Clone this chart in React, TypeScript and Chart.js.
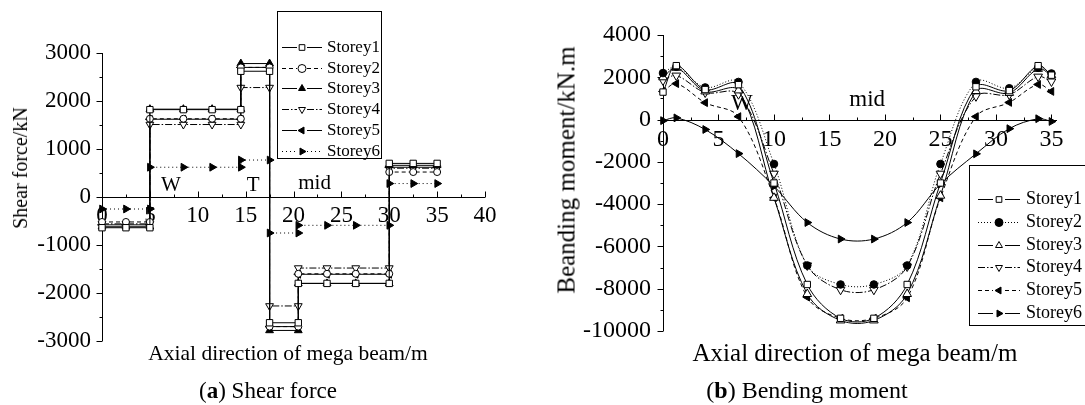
import React, { useEffect, useRef } from 'react';
import { Chart, registerables } from 'chart.js';
import { drawPoint } from 'chart.js/helpers';

Chart.register(...registerables);

const FONT = "'Liberation Serif', 'Times New Roman', serif";

const storeyLabels = ['Storey1', 'Storey2', 'Storey3', 'Storey4', 'Storey5', 'Storey6'];

// ---------- (a) Shear force ----------
// x positions (m) of the points on each constant-shear segment
const shearSegmentX = [
  [0, 2.5, 5],
  [5, 8.5, 11.5, 14.5],
  [14.5, 17.5],
  [17.5, 20.5],
  [20.5, 23.5, 26.5, 30],
  [30, 32.5, 35],
];
// shear (kN) on each segment
const shearStorey1 = [-640, 1820, 2620, -2620, -1800, 700];
const shearStorey2 = [-520, 1630, 2700, -2700, -1600, 520];
const shearStorey3 = [-620, 1830, 2780, -2780, -1800, 660];
const shearStorey4 = [-560, 1510, 2280, -2270, -1480, 600];
const shearStorey5 = [-580, 1620, 2700, -2700, -1610, 620];
const shearStorey6 = [-250, 620, 770, -750, -590, 280];
const shearXTicks = [0, 5, 10, 15, 20, 25, 30, 35, 40];
const shearYTicks = [-3000, -2000, -1000, 0, 1000, 2000, 3000];
const shearNotes = [
  { text: 'W', x: 7.2, y: 230 },
  { text: 'T', x: 15.8, y: 230 },
  { text: 'mid', x: 22.2, y: 290 },
];

// ---------- (b) Bending moment ----------
const momentX = [0, 1.2, 3.8, 6.8, 10, 13, 16, 19, 22, 25, 28.2, 31.2, 33.8, 35];
const momentStorey1 = [1300, 2550, 1420, 1650, -3000, -7800, -9400, -9400, -7800, -3000, 1550, 1370, 2550, 2100];
const momentStorey2 = [2200, 2500, 1520, 1780, -2100, -6900, -7800, -7800, -6900, -2100, 1780, 1480, 2450, 2180];
const momentStorey3 = [2000, 2450, 1330, 1380, -3700, -8250, -9500, -9500, -8250, -3600, 1350, 1260, 2400, 2100];
const momentStorey4 = [1850, 2080, 1280, 1200, -2560, -6900, -8050, -8050, -6950, -2560, 1100, 1180, 2030, 1800];
const momentStorey5 = [1330, 1700, 800, 140, -3700, -8400, -9400, -9400, -8430, -3700, 140, 810, 1660, 1330];
const momentStorey6 = [-50, 80, -470, -1610, -3150, -4870, -5650, -5650, -4870, -3050, -1620, -430, 40, -90];
const momentXTicks = [0, 5, 10, 15, 20, 25, 30, 35];
const momentYTicks = [-10000, -8000, -6000, -4000, -2000, 0, 2000, 4000];
const momentNotes = [
  { text: 'W', x: 7.1, y: 720 },
  { text: 'mid', x: 18.4, y: 950 },
];

type Style = { dash: number[]; point: string; rotation: number; fill: string; radius: number };

const shearStyles: Style[] = [
  { dash: [], point: 'rect', rotation: 0, fill: '#fff', radius: 4.5 },
  { dash: [4, 3], point: 'circle', rotation: 0, fill: '#fff', radius: 3.5 },
  { dash: [], point: 'triangle', rotation: 0, fill: '#000', radius: 4.5 },
  { dash: [7, 2, 1.5, 2], point: 'triangle', rotation: 180, fill: '#fff', radius: 4.5 },
  { dash: [], point: 'triangle', rotation: 270, fill: '#000', radius: 4.5 },
  { dash: [1, 3], point: 'triangle', rotation: 90, fill: '#000', radius: 4.5 },
];

const momentStyles: Style[] = [
  { dash: [], point: 'rect', rotation: 0, fill: '#fff', radius: 4.5 },
  { dash: [1, 2], point: 'circle', rotation: 0, fill: '#000', radius: 3.8 },
  { dash: [], point: 'triangle', rotation: 0, fill: '#fff', radius: 5 },
  { dash: [7, 2, 1.5, 2], point: 'triangle', rotation: 180, fill: '#fff', radius: 5 },
  { dash: [4, 3], point: 'triangle', rotation: 270, fill: '#000', radius: 4.5 },
  { dash: [], point: 'triangle', rotation: 90, fill: '#000', radius: 4.5 },
];

function makeDatasets(series: { x: number; y: number }[][], styles: Style[], tension: number) {
  return series.map((pts, i) => ({
    label: storeyLabels[i],
    data: pts,
    borderColor: '#000',
    borderWidth: 1,
    borderDash: styles[i].dash,
    pointStyle: styles[i].point,
    pointRotation: styles[i].rotation,
    pointRadius: styles[i].radius,
    pointBackgroundColor: styles[i].fill,
    pointBorderColor: '#000',
    pointBorderWidth: 1,
    tension,
    fill: false,
    clip: false as any,
  }));
}

const axesPlugin = {
  id: 'paperAxes',
  beforeDatasetsDraw(chart: any, _a: any, o: any) {
    const { ctx, chartArea: ca } = chart;
    const xs = chart.scales.x;
    const ys = chart.scales.y;
    const y0 = Math.round(ys.getPixelForValue(0)) + 0.5;
    const xl = Math.round(ca.left) + 0.5;
    ctx.save();
    ctx.strokeStyle = '#000';
    ctx.lineWidth = 1;
    ctx.setLineDash([]);
    ctx.beginPath();
    ctx.moveTo(xl, ca.top);
    ctx.lineTo(xl, ca.bottom);
    ctx.moveTo(ca.left, y0);
    ctx.lineTo(ca.right, y0);
    const nx = Math.floor((xs.max - xs.min) / o.xMinor + 1e-6);
    for (let i = 0; i <= nx; i++) {
      const v = xs.min + i * o.xMinor;
      const px = Math.round(xs.getPixelForValue(v)) + 0.5;
      const len = i % 2 === 0 ? o.major : o.minor;
      ctx.moveTo(px, y0);
      ctx.lineTo(px, y0 - len);
    }
    const ny = Math.floor((ys.max - ys.min) / o.yMinor + 1e-6);
    for (let i = 0; i <= ny; i++) {
      const v = ys.min + i * o.yMinor;
      const py = Math.round(ys.getPixelForValue(v)) + 0.5;
      const len = i % 2 === 0 ? o.major : o.minor;
      ctx.moveTo(xl, py);
      ctx.lineTo(xl - len, py);
    }
    ctx.stroke();
    // annotations
    ctx.fillStyle = '#000';
    ctx.font = `${o.noteSize}px ${FONT}`;
    ctx.textAlign = 'center';
    ctx.textBaseline = 'middle';
    (o.notes || []).forEach((n: any) => {
      ctx.fillText(n.text, xs.getPixelForValue(n.x), ys.getPixelForValue(n.y));
    });
    ctx.restore();
  },
};

const legendPlugin = {
  id: 'paperLegend',
  afterDraw(chart: any, _a: any, o: any) {
    const { ctx } = chart;
    ctx.save();
    ctx.setLineDash([]);
    ctx.fillStyle = '#fff';
    ctx.fillRect(o.left, o.top, o.width, o.height);
    ctx.strokeStyle = '#000';
    ctx.lineWidth = 1;
    ctx.strokeRect(o.left + 0.5, o.top + 0.5, o.width, o.height);
    ctx.font = `${o.fontSize}px ${FONT}`;
    ctx.textBaseline = 'middle';
    ctx.textAlign = 'left';
    chart.data.datasets.forEach((ds: any, i: number) => {
      const y = Math.round(o.firstY + i * o.spacing) + 0.5;
      ctx.strokeStyle = '#000';
      ctx.lineWidth = 1;
      ctx.setLineDash(ds.borderDash || []);
      ctx.beginPath();
      ctx.moveTo(o.lineX0, y);
      ctx.lineTo(o.markerX - o.gap, y);
      ctx.moveTo(o.markerX + o.gap, y);
      ctx.lineTo(o.lineX1, y);
      ctx.stroke();
      ctx.setLineDash([]);
      ctx.fillStyle = ds.pointBackgroundColor;
      ctx.strokeStyle = '#000';
      ctx.lineWidth = 1;
      drawPoint(ctx, { pointStyle: ds.pointStyle, rotation: ds.pointRotation, radius: o.radius, borderWidth: 1 } as any, o.markerX, y);
      ctx.fillStyle = '#000';
      ctx.fillText(ds.label, o.textX, y);
    });
    ctx.restore();
  },
};

function scaleOpts(ticks: number[], size: number, padding: number) {
  return {
    type: 'linear' as const,
    grid: { display: false, drawTicks: false },
    border: { display: false },
    ticks: {
      color: '#000',
      font: { size, family: FONT },
      padding,
      autoSkip: false,
      maxRotation: 0,
      minRotation: 0,
      callback: (v: any) => String(v),
    },
    afterBuildTicks: (s: any) => {
      s.ticks = ticks.map((v) => ({ value: v }));
    },
  };
}

function buildShear(canvas: HTMLCanvasElement) {
  const series = [shearStorey1, shearStorey2, shearStorey3, shearStorey4, shearStorey5, shearStorey6].map((vals) =>
    shearSegmentX.flatMap((xs, i) => xs.map((x) => ({ x, y: vals[i] })))
  );
  return new Chart(canvas, {
    type: 'line',
    data: { datasets: makeDatasets(series, shearStyles, 0) as any },
    options: {
      animation: false,
      responsive: false,
      devicePixelRatio: 1,
      layout: { padding: { top: 53, bottom: 64, left: 0, right: 55 } },
      plugins: {
        legend: { display: false },
        tooltip: { enabled: false },
        paperAxes: { xMinor: 2.5, yMinor: 500, major: 6, minor: 3, notes: shearNotes, noteSize: 21 },
        paperLegend: {
          left: 277, top: 11, width: 104, height: 147, firstY: 47, spacing: 20.7,
          lineX0: 282, lineX1: 322, markerX: 302, gap: 5, radius: 4, textX: 327, fontSize: 17,
        },
      } as any,
      scales: {
        x: { ...scaleOpts(shearXTicks, 23, 5), position: { y: 0 }, min: 0, max: 40 } as any,
        y: { ...scaleOpts(shearYTicks, 23, 11), min: -3000, max: 3000, afterFit: (s: any) => { s.width = 102; } } as any,
      },
    },
    plugins: [axesPlugin, legendPlugin],
  });
}

function buildMoment(canvas: HTMLCanvasElement) {
  const series = [momentStorey1, momentStorey2, momentStorey3, momentStorey4, momentStorey5, momentStorey6].map((vals) =>
    momentX.map((x, i) => ({ x, y: vals[i] }))
  );
  return new Chart(canvas, {
    type: 'line',
    data: { datasets: makeDatasets(series, momentStyles, 0.35) as any },
    options: {
      animation: false,
      responsive: false,
      devicePixelRatio: 1,
      layout: { padding: { top: 35, bottom: 74, left: 0, right: 28 } },
      plugins: {
        legend: { display: false },
        tooltip: { enabled: false },
        paperAxes: { xMinor: 2.5, yMinor: 1000, major: 6, minor: 3, notes: momentNotes, noteSize: 23 },
        paperLegend: {
          left: 429, top: 165, width: 130, height: 160, firstY: 199, spacing: 22.8,
          lineX0: 438, lineX1: 480, markerX: 459, gap: 6, radius: 4, textX: 486, fontSize: 18,
        },
      } as any,
      scales: {
        x: { ...scaleOpts(momentXTicks, 24, 6), position: { y: 0 }, min: 0, max: 35.5 } as any,
        y: { ...scaleOpts(momentYTicks, 24, 12), min: -10000, max: 4000, afterFit: (s: any) => { s.width = 123; } } as any,
      },
    },
    plugins: [axesPlugin, legendPlugin],
  });
}

function Text(props: { x: number; y: number; size: number; rotate?: boolean; children: React.ReactNode }) {
  return (
    <div
      style={{
        position: 'absolute',
        left: props.x,
        top: props.y,
        transform: `translate(-50%, -50%)${props.rotate ? ' rotate(-90deg)' : ''}`,
        fontSize: props.size,
        lineHeight: 1,
        whiteSpace: 'nowrap',
        color: '#000',
        fontFamily: FONT,
      }}
    >
      {props.children}
    </div>
  );
}

export default function App() {
  const leftRef = useRef<HTMLCanvasElement>(null);
  const rightRef = useRef<HTMLCanvasElement>(null);

  useEffect(() => {
    Chart.defaults.font.family = FONT;
    Chart.defaults.color = '#000';
    const a = buildShear(leftRef.current!);
    const b = buildMoment(rightRef.current!);
    return () => {
      a.destroy();
      b.destroy();
    };
  }, []);

  return (
    <div style={{ position: 'absolute', left: 0, top: 0, width: 1085, height: 405, background: '#fff', overflow: 'hidden' }}>
      <canvas ref={leftRef} width={540} height={405} style={{ position: 'absolute', left: 0, top: 0 }} />
      <canvas ref={rightRef} width={545} height={405} style={{ position: 'absolute', left: 540, top: 0 }} />
      <Text x={19.5} y={168} size={20} rotate>Shear force/kN</Text>
      <Text x={288} y={354} size={21.5}>Axial direction of mega beam/m</Text>
      <Text x={268} y={390} size={23}>(<b>a</b>) Shear force</Text>
      <Text x={566} y={170} size={25} rotate>Beanding moment/kN.m</Text>
      <Text x={855} y={352} size={25}>Axial direction of mega beam/m</Text>
      <Text x={807} y={390} size={24}>(<b>b</b>) Bending moment</Text>
    </div>
  );
}
